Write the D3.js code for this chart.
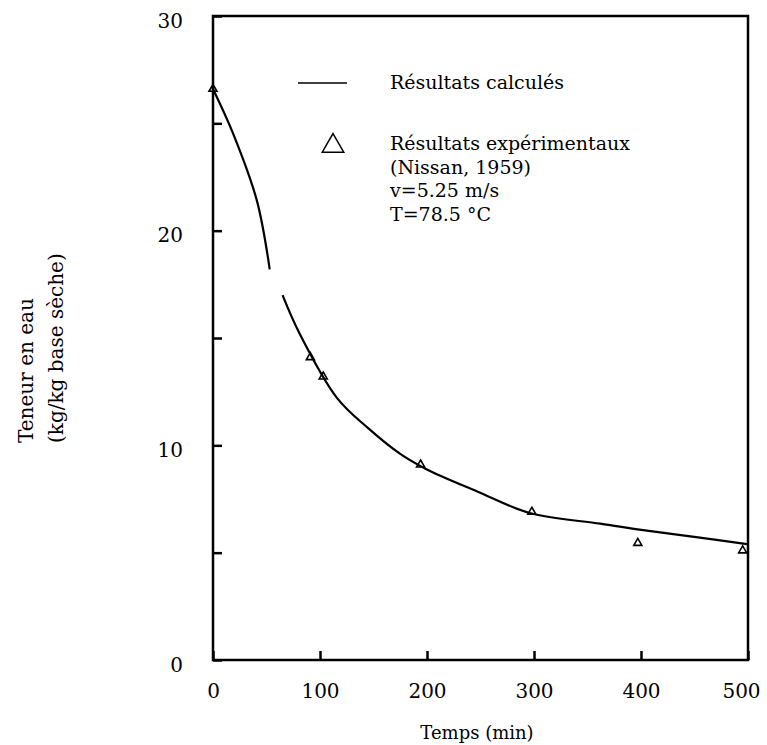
<!DOCTYPE html>
<html>
<head>
<meta charset="utf-8">
<script src="https://cdn.jsdelivr.net/npm/d3@7/dist/d3.min.js"></script>
<style>
  html, body { margin: 0; padding: 0; background: #fff; }
  svg text { font-family: "DejaVu Serif", serif; fill: #000; }
</style>
</head>
<body>
<svg id="chart" width="767" height="745"></svg>
<script>
// Calculated drying curve (null marks a break in the drawn line)
const calcTime     = [0, 19, 41, 53, null, 65, 81, 116, 145, 175, 199, 247, 296, 362, 402, 455, 499];
const calcMoisture = [26.6, 24.5, 21.4, 18.2, null, 17.0, 15.2, 12.2, 10.8, 9.6, 8.9, 7.85, 6.85, 6.35, 6.05, 5.7, 5.4];

// Experimental points (Nissan, 1959)
const expTime     = [0, 91, 103, 194, 298, 397, 495];
const expMoisture = [26.6, 14.1, 13.2, 9.1, 6.9, 5.45, 5.1];

const xTicks = [0, 100, 200, 300, 400, 500];
const yTicks = [0, 5, 10, 15, 20, 25, 30];
const yLabelled = [0, 10, 20, 30];

const legendLines = ["Résultats expérimentaux", "(Nissan, 1959)", "v=5.25 m/s", "T=78.5 °C"];

const FONT = '"DejaVu Serif", serif';
const svg = d3.select("#chart");
const plotL = 213, plotR = 748, plotT = 16, plotB = 660;

const x = d3.scaleLinear().domain([0, 500]).range([plotL, plotR]);
const y = d3.scaleLinear().domain([0, 30]).range([plotB, plotT]);

// X axis (ticks pointing into the plot)
const gx = svg.append("g")
  .attr("transform", `translate(0,${plotB})`)
  .call(d3.axisBottom(x).tickValues(xTicks).tickSizeInner(-9).tickSizeOuter(0).tickPadding(24));
gx.select(".domain").remove();
gx.attr("font-family", FONT).attr("font-size", 20);
gx.selectAll(".tick line").attr("stroke", "#000").attr("stroke-width", 2.5);
// keep the last label inside the page
gx.selectAll(".tick text").filter(d => d === 500).attr("dx", -7);

// Y axis
const gy = svg.append("g")
  .attr("transform", `translate(${plotL},0)`)
  .call(d3.axisLeft(y).tickValues(yTicks).tickSizeInner(-9).tickSizeOuter(0).tickPadding(30)
    .tickFormat(d => yLabelled.includes(d) ? d : ""));
gy.select(".domain").remove();
gy.attr("font-family", FONT).attr("font-size", 20);
gy.selectAll(".tick line").attr("stroke", "#000").attr("stroke-width", 2.5);
gy.selectAll(".tick text").attr("dy", "0.55em");

// Frame
svg.append("rect")
  .attr("x", plotL).attr("y", plotT)
  .attr("width", plotR - plotL).attr("height", plotB - plotT)
  .attr("fill", "none").attr("stroke", "#000").attr("stroke-width", 2.5);

// Calculated curve
const calc = calcTime.map((t, i) => ({ t, v: calcMoisture[i] }));
const line = d3.line()
  .defined(d => d.t !== null && d.v !== null)
  .x(d => x(d.t)).y(d => y(d.v))
  .curve(d3.curveCatmullRom.alpha(0.5));
svg.append("path")
  .datum(calc)
  .attr("d", line)
  .attr("fill", "none").attr("stroke", "#000").attr("stroke-width", 2.2);

// Experimental markers
const tri = d3.symbol().type(d3.symbolTriangle).size(28);
svg.append("g").selectAll("path")
  .data(expTime.map((t, i) => ({ t, v: expMoisture[i] })))
  .join("path")
  .attr("d", tri)
  .attr("transform", d => `translate(${x(d.t)},${y(d.v)})`)
  .attr("fill", "none").attr("stroke", "#000").attr("stroke-width", 1.6);

// Legend
const lg = svg.append("g").attr("font-size", 19);
lg.append("line").attr("x1", 298).attr("x2", 347).attr("y1", 83).attr("y2", 83)
  .attr("stroke", "#000").attr("stroke-width", 1.5);
lg.append("text").attr("x", 390).attr("y", 89).text("Résultats calculés");
lg.append("path").attr("d", d3.symbol().type(d3.symbolTriangle).size(200)())
  .attr("transform", "translate(333,146)")
  .attr("fill", "none").attr("stroke", "#000").attr("stroke-width", 1.5);
legendLines.forEach((s, i) => {
  lg.append("text").attr("x", 390).attr("y", 150 + i * 23.5).text(s);
});

// Axis titles
svg.append("text").attr("x", 477).attr("y", 739).attr("text-anchor", "middle")
  .attr("font-size", 18).text("Temps (min)");
const yt = svg.append("text").attr("transform", "translate(0,443) rotate(-90)").attr("font-size", 20);
yt.append("tspan").attr("x", 0).attr("y", 33).text("Teneur en eau");
yt.append("tspan").attr("x", 0).attr("y", 63).text("(kg/kg base sèche)");
</script>
</body>
</html>
